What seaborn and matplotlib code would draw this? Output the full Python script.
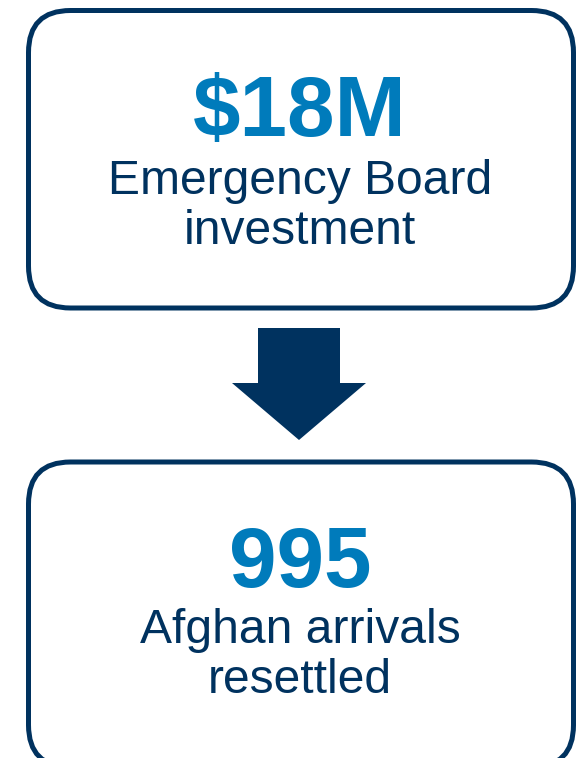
import seaborn as sns
import matplotlib.pyplot as plt
from matplotlib.patches import FancyBboxPatch

# values shown in the two boxes
headline = ["$18M", "995"]
caption_line1 = ["Emergency Board", "Afghan arrivals"]
caption_line2 = ["investment", "resettled"]

navy = "#00325f"
blue = "#007bbb"

sns.set_theme(style="white")
plt.rcParams["font.family"] = ["Liberation Sans", "DejaVu Sans"]

fig = plt.figure(figsize=(5.77, 7.58), dpi=100)
ax = fig.add_axes([0, 0, 1, 1])
ax.set_xlim(0, 577)
ax.set_ylim(758, 0)
ax.axis("off")

# box frames (pixel layout)
boxes = [(28.5, 10.5, 545, 297.5), (28.5, 462, 545, 305)]
# baselines for headline / line1 / line2 per box
baselines = [(136, 194, 244), (587, 643, 693)]

for i, (x0, y0, w, h) in enumerate(boxes):
    patch = FancyBboxPatch((x0, y0), w, h,
                           boxstyle="round,pad=0,rounding_size=42",
                           fc="white", ec=navy, lw=3.6)
    ax.add_patch(patch)
    b0, b1, b2 = baselines[i]
    ax.text(300, b0, headline[i], color=blue, fontsize=61.5, fontweight="bold",
            ha="center", va="baseline")
    ax.text(300, b1, caption_line1[i], color=navy, fontsize=34.6,
            ha="center", va="baseline")
    ax.text(300, b2, caption_line2[i], color=navy, fontsize=34.6,
            ha="center", va="baseline")

# down arrow between the boxes
arrow_x = [258, 340, 340, 366, 299, 232, 258]
arrow_y = [328, 328, 383, 383, 440, 383, 383]
ax.fill(arrow_x, arrow_y, color=navy, lw=0)

fig.savefig("out.png", dpi=100)
